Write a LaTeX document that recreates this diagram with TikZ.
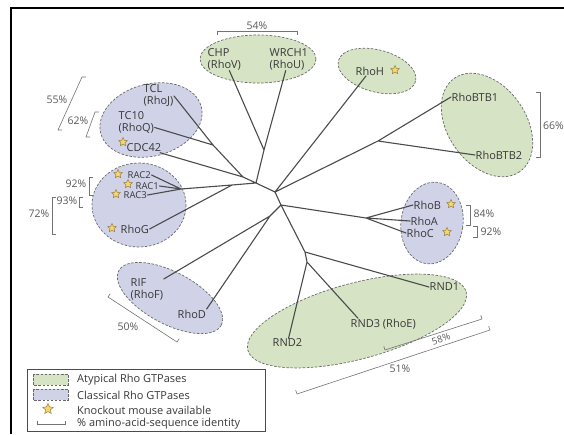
\documentclass[tikz,border=0pt]{standalone}
\usepackage{fontspec}
\setsansfont{Open Sans}
\usetikzlibrary{shapes.geometric,calc}

\definecolor{atypgreen}{RGB}{214,227,196}
\definecolor{classblue}{RGB}{208,210,232}
\definecolor{rimgray}{RGB}{105,105,105}
\definecolor{stemgray}{RGB}{75,75,75}
\definecolor{staryellow}{RGB}{246,214,110}
\definecolor{starrim}{RGB}{150,125,60}

\begin{document}
\begin{tikzpicture}[x=1pt,y=-1pt,
  tree line/.style={draw=stemgray,line width=1.1pt,line cap=round},
  gene/.style={font=\sffamily\fontsize{11}{12}\selectfont,text=black!78,inner sep=0.5pt,anchor=west,align=left},
  small gene/.style={gene,font=\sffamily\fontsize{9.5}{10}\selectfont},
  ko/.style={star,star points=5,star point ratio=2.1,draw=starrim,fill=staryellow,line width=0.5pt,minimum size=9pt,inner sep=0pt},
  atypical/.style={fill=atypgreen,draw=rimgray,line width=0.7pt,dash pattern=on 2.5pt off 1.6pt},
  classical/.style={fill=classblue,draw=rimgray,line width=0.7pt,dash pattern=on 2.5pt off 1.6pt},
  pct/.style={draw=black!55,line width=0.6pt},
  pct label/.style={font=\sffamily\fontsize{10.5}{12}\selectfont,text=black!65,inner sep=0pt},
  legend text/.style={font=\sffamily\fontsize{11}{12}\selectfont,text=black!78,inner sep=0pt,anchor=west}]

  \useasboundingbox (0,0) rectangle (564,434);

  % frame
  \draw[line width=2.6pt] (11,434) -- (11,8) -- (564,8);

  % groups
  \path[atypical] (258,59) ellipse (58 and 24);
  \path[atypical,rotate around={-15:(377,71)}] (377,71) ellipse (40 and 21);
  \path[atypical,rotate around={-55:(487,125)}] (487,125) ellipse (57 and 39);
  \path[atypical,rotate around={15:(357,321)}] (357,321) ellipse (113 and 38);
  \path[classical,rotate around={15:(151,120)}] (151,120) ellipse (52 and 36);
  \path[classical] (139,205) ellipse (47 and 42);
  \path[classical,rotate around={-28:(170,298)}] (170,298) ellipse (58 and 26);
  \path[classical,rotate around={-8:(432,223)}] (432,223) ellipse (31 and 41);

  % genes
  \node[gene] (chp) at (207,59) {CHP\\(RhoV)};
  \node[gene] (wrch) at (269,59) {WRCH1\\(RhoU)};
  \node[gene] (rhoH) at (355,71) {RhoH};
  \node[gene] (btb1) at (451,97) {RhoBTB1};
  \node[gene] (btb2) at (475,155) {RhoBTB2};
  \node[gene] (rhoB) at (413,205) {RhoB};
  \node[gene] (rhoA) at (410,221) {RhoA};
  \node[gene] (rhoC) at (406,233) {RhoC};
  \node[gene] (rnd1) at (429,287) {RND1};
  \node[gene] (rnd3) at (350,324) {RND3 (RhoE)};
  \node[gene] (rnd2) at (272,343) {RND2};
  \node[gene] (rhoD) at (177,314) {RhoD};
  \node[gene] (rif) at (130,289) {RIF\\(RhoF)};
  \node[gene] (rhoG) at (120,229) {RhoG};
  \node[small gene] (rac2) at (127,175) {RAC2};
  \node[small gene] (rac1) at (135,186) {RAC1};
  \node[small gene] (rac3) at (123,195) {RAC3};
  \node[gene] (cdc42) at (126,148) {CDC42};
  \node[gene] (tc10) at (118,122) {TC10\\(RhoQ)};
  \node[gene] (tcl) at (143,96) {TCL\\(RhoJ)};

  % knockout stars
  \node[ko] (koRhoH) at (395,70) {};
  \node[ko] (koRhoB) at (451,204) {};
  \node[ko] (koRhoC) at (447,232) {};
  \node[ko] (koRhoG) at (112,228) {};
  \node[ko] (koRac2) at (118,174) {};
  \node[ko] (koRac1) at (128,184) {};
  \node[ko] (koRac3) at (116,194) {};
  \node[ko] (koCdc42) at (123,142) {};

  % branch points
  \coordinate (jCW) at (264,150);
  \coordinate (jTC) at (213,145);
  \coordinate (jCdc) at (243,177);
  \coordinate (jRac) at (181,189);
  \coordinate (jRacG) at (232,185);
  \coordinate (n1) at (256,183);
  \coordinate (n2) at (275,192);
  \coordinate (jBTB) at (378,141);
  \coordinate (n3) at (281,205);
  \coordinate (jRho) at (366,218);
  \coordinate (jRnd1) at (305,252);
  \coordinate (jRnd2) at (307,262);
  \coordinate (jRif) at (270,216);

  \draw[tree line]
      (jCW) -- (chp)
      (jCW) -- (wrch)
      (jCW) -- (n1)

      (jTC) -- (tcl.east)
      (jTC) -- (tc10)
      (jTC) -- (jCdc)
      (jCdc) -- (cdc42)
      (jCdc) -- (n1)

      (jRac) -- (rac2.east)
      (jRac) -- (rac1.east)
      (jRac) -- (rac3.east)
      (jRac) -- (jRacG)
      (jRacG) -- (rhoG.east)
      (jRacG) -- (n1)

      (n1) -- (n2) -- (n3)
      (n2) -- (rhoH)
      (n2) -- (jBTB)
      (jBTB) -- (btb1.west)
      (jBTB) -- (btb2.west)

      (n3) -- (jRho)
      (jRho) -- (rhoB.west)
      (jRho) -- (rhoA.west)
      (jRho) -- (rhoC.west)

      (n3) -- (jRnd1)
      (jRnd1) -- (rnd1.west)
      (jRnd1) -- (jRnd2)
      (jRnd2) -- (rnd2)
      (jRnd2) -- ($(rnd3.north west)+(8,0)$)

      (n3) -- (jRif)
      (jRif) -- (rif)
      (jRif) -- (rhoD.north east);

  % sequence identity brackets
  \draw[pct] (217,35) -- (217,31) -- (297,31) -- (297,35);
  \draw[pct] (86,77) -- (82,77) -- (58,130) -- (62,130);
  \draw[pct] (99,112) -- (95,112) -- (86,137) -- (90,137);
  \draw[pct] (93,177) -- (89,177) -- (89,195) -- (93,195);
  \draw[pct] (83,197) -- (79,197) -- (79,207) -- (83,207);
  \draw[pct] (56,197) -- (52,197) -- (52,234) -- (56,234);
  \draw[pct] (466,205) -- (470,205) -- (470,225) -- (466,225);
  \draw[pct] (473,226) -- (477,226) -- (477,237) -- (473,237);
  \draw[pct] (536,92) -- (540,92) -- (540,157) -- (536,157);
  \draw[pct] (383.8,346.2) -- (385,350) -- (482,319) -- (480.8,315.2);
  \draw[pct] (295.7,390.2) -- (297,394) -- (490,330) -- (488.7,326.2);
  \draw[pct] (110.2,293.7) -- (108,297) -- (177,342) -- (179.2,338.7);

  \node[pct label] (p54) at (257,26) {54\%};
  \node[pct label] (p55) at (57,100) {55\%};
  \node[pct label] (p62) at (78,121) {62\%};
  \node[pct label] (p92a) at (76,184) {92\%};
  \node[pct label] (p93) at (67,201) {93\%};
  \node[pct label] (p72) at (39,214) {72\%};
  \node[pct label] (p84) at (484,214) {84\%};
  \node[pct label] (p92b) at (491,232) {92\%};
  \node[pct label,anchor=west] (p66) at (543,126) {66\%};
  \node[pct label,rotate=18,font=\sffamily\fontsize{9.5}{10}\selectfont] (p58) at (441,339) {58\%};
  \node[pct label] (p51) at (400,369) {51\%};
  \node[pct label] (p50) at (128,327) {50\%};

  % legend
  \draw[draw=black!70,line width=0.6pt] (27,369) rectangle (265,431);
  \path[atypical] (33,374) rectangle (68,385);
  \path[classical] (33,389) rectangle (68,400);
  \node[ko,minimum size=11pt] (koLegend) at (48,409) {};
  \draw[pct] (37,421) -- (37,424) -- (65,424) -- (65,421);
  \node[legend text] (legAtyp) at (77,380) {Atypical Rho GTPases};
  \node[legend text] (legClass) at (77,395) {Classical Rho GTPases};
  \node[legend text] (legKo) at (77,410) {Knockout mouse available};
  \node[legend text] (legPct) at (77,424) {\% amino-acid-sequence identity};
\end{tikzpicture}
\end{document}
